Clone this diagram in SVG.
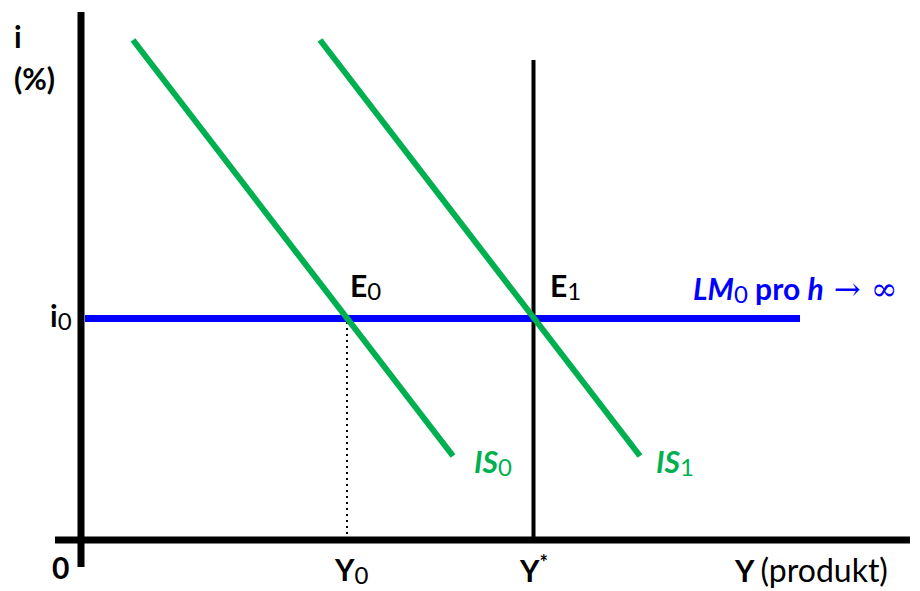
<svg xmlns="http://www.w3.org/2000/svg" width="920" height="591" viewBox="0 0 920 591">
<style>
.t{font-family:Lato,"Open Sans","Liberation Sans",sans-serif;font-size:30px;font-weight:bold;fill:#000}
.sub{font-size:24px;font-weight:normal;font-style:normal}
.g{fill:#00B050;font-style:italic}
.b{fill:#0000FF}
.ax{stroke:#000;stroke-width:7;fill:none}
</style>
<rect width="920" height="591" fill="#fff"/>
<g id="connectors">
<line class="ax" x1="81" y1="12" x2="81" y2="567"/>
<line class="ax" x1="55" y1="540" x2="910" y2="540"/>
<line x1="347" y1="322" x2="347" y2="536" stroke="#000" stroke-width="2" stroke-dasharray="2,4"/>
<line x1="533.5" y1="60" x2="533.5" y2="540" stroke="#000" stroke-width="4"/>
<line x1="85" y1="318.5" x2="800" y2="318.5" stroke="#0000FF" stroke-width="7"/>
<line id="IS0" x1="133" y1="40" x2="453" y2="456" stroke="#00B050" stroke-width="6"/>
<line id="IS1" x1="320" y1="40" x2="640" y2="456" stroke="#00B050" stroke-width="6"/>
</g>
<g id="labels">
<text class="t" x="14" y="48">i</text>
<text class="t" x="14" y="90">(%)</text>
<text class="t" x="50" y="327">i<tspan class="sub" dy="3">0</tspan></text>
<text class="t" x="350" y="297">E<tspan class="sub" dy="3">0</tspan></text>
<text class="t" x="550" y="297">E<tspan class="sub" dy="3">1</tspan></text>
<text class="t b" x="693" y="300"><tspan font-style="italic">LM</tspan><tspan class="sub" dy="3">0</tspan><tspan dy="-3"> pro </tspan><tspan font-style="italic">h</tspan><tspan font-weight="normal" font-family="DejaVu Serif,serif" font-size="32"> → ∞</tspan></text>
<text class="t g" x="474" y="473">IS<tspan class="sub" dy="3">0</tspan></text>
<text class="t g" x="656" y="473">IS<tspan class="sub" dy="3">1</tspan></text>
<text class="t" x="52" y="579">0</text>
<text class="t" x="335" y="581">Y<tspan class="sub" dy="3">0</tspan></text>
<text class="t" x="520" y="582">Y<tspan font-size="20" dy="-12">*</tspan></text>
<text class="t" x="735" y="582">Y <tspan font-weight="normal" font-size="32">(produkt)</tspan></text>
</g>
</svg>
